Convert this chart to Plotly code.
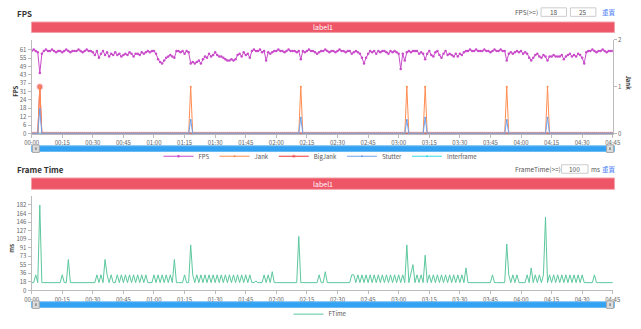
import plotly.graph_objects as go

W, H = 641, 329

# ---------------- data ----------------
SECONDS = list(range(286))

FPS = [
    60, 61, 60, 59,
    44,
    58, 60, 61, 60, 60, 61, 60, 59, 60,
    60, 59, 60, 61, 60, 59, 60,
    60, 60, 61, 60, 59, 60, 61, 60, 60, 59,
    57, 60, 55, 58, 60,
    57, 59, 56, 58, 57, 59, 57, 58, 56, 57,
    58, 57, 59, 58, 56, 58, 58, 57, 59, 58,
    59, 60, 59, 60, 60, 58,
    54, 52, 51, 53, 55,
    56, 57, 56, 55,
    60, 60, 59, 60, 58, 60, 59,
    51,
    52, 51, 52, 53, 51, 54,
    56, 55, 58, 56, 57,
    59, 57, 56, 56, 55, 54, 53, 53, 54, 53,
    54, 57, 58, 56, 59, 57, 58, 55,
    60, 61, 60, 60, 61, 59, 60,
    53,
    59, 58, 59, 60, 60, 61, 60, 60, 59, 60, 61, 60, 60, 60, 59, 60,
    54,
    60, 59, 60, 61, 60, 60, 59, 58, 59, 60, 60, 61, 60, 59, 60, 60, 59, 60, 61, 60,
    60, 59, 60, 60, 58, 59, 60, 59, 58,
    55, 51, 55,
    58, 60, 59, 60, 58, 60, 59, 60, 60, 59, 58, 60, 59, 60, 59, 58,
    47,
    58, 53,
    59,
    60, 59, 60, 60,
    60, 58, 59, 58,
    54,
    58, 60, 57, 56, 59, 60, 57, 55, 58, 60, 57, 58, 57, 56, 58, 56, 58, 57, 59,
    60, 60, 61, 60, 60, 61, 60, 60, 60, 61, 60, 60, 59, 60, 61, 60, 60, 61, 60, 60,
    53,
    58, 59, 58, 59, 60, 59, 60, 58, 59, 58,
    55, 53, 55,
    57, 58, 56, 55, 57, 56,
    53,
    56, 56, 57, 56, 56, 56, 57, 54, 56, 57, 58, 56, 57, 56, 58, 57, 55,
    51,
    59, 60, 60, 61, 60, 59, 60, 60, 61, 60, 59, 60, 60, 60,
]

JANK_TIMES = [4, 78, 132, 184, 193, 233, 253]
JANK_VALUES = [1, 1, 1, 1, 1, 1, 1]
BIGJANK_TIMES = [4]
BIGJANK_VALUES = [1]
STUTTER_TIMES = [4, 78, 132, 184, 193, 233, 253]
STUTTER_VALUES = [0.52, 0.29, 0.34, 0.29, 0.34, 0.29, 0.34]
INTERFRAME_VALUES = [0] * 286

FTIME = [
    16.7, 16.7, 33.3, 16.7,
    182,
    16.7, 16.7, 16.7, 16.7, 16.7, 16.7, 16.7, 16.7, 16.7, 16.7,
    33.3, 16.7, 16.7,
    66,
    16.7, 16.7, 16.7, 16.7, 16.7, 16.7, 16.7, 16.7, 16.7, 16.7, 16.7, 16.7, 16.7,
    33.3, 16.7, 33.3, 16.7,
    66,
    33.3, 16.7, 33.3,
    16.7, 16.7,
    33.3, 16.7, 33.3, 16.7, 33.3, 16.7, 33.3, 16.7, 33.3, 16.7, 33.3, 16.7, 33.3, 16.7, 33.3, 16.7,
    16.7, 16.7,
    33.3, 16.7, 33.3, 16.7, 33.3, 16.7, 33.3, 16.7, 33.3, 16.7,
    66,
    16.7, 16.7, 16.7, 16.7,
    33.3,
    16.7, 16.7,
    97,
    33.3, 16.7, 33.3, 16.7, 33.3, 16.7, 33.3, 16.7, 33.3, 16.7, 33.3, 16.7, 33.3, 16.7, 33.3,
    16.7, 33.3, 16.7, 33.3, 16.7, 33.3, 16.7, 33.3, 16.7, 33.3, 16.7, 33.3, 16.7, 33.3,
    16.7, 16.7, 20, 16.7, 16.7, 16.7,
    33.3, 16.7, 33.3, 16.7,
    40, 16.7, 16.7,
    16.7, 16.7, 16.7, 16.7, 16.7, 16.7, 16.7, 16.7, 16.7, 16.7,
    115,
    16.7, 16.7, 16.7, 16.7, 16.7, 16.7, 16.7, 16.7, 16.7,
    33.3, 16.7,
    16.7, 40,
    16.7, 16.7, 16.7, 16.7, 16.7, 16.7, 16.7, 16.7, 16.7, 16.7, 16.7, 16.7,
    33.3,
    33.3, 16.7, 33.3, 16.7, 33.3, 16.7, 33.3, 16.7, 33.3, 16.7, 33.3, 16.7,
    33.3, 16.7, 33.3, 16.7, 33.3, 16.7, 33.3, 16.7, 33.3, 16.7, 33.3,
    16.7, 33.3, 16.7, 97, 16.7, 33.3, 55, 16.7, 33.3, 16.7, 33.3, 16.7, 75, 16.7, 33.3, 16.7,
    33.3, 16.7, 33.3, 16.7, 33.3, 16.7, 33.3, 16.7, 33.3, 16.7, 33.3, 16.7, 33.3, 16.7, 33.3, 16.7,
    48,
    16.7, 16.7, 16.7, 16.7, 16.7, 16.7, 16.7, 16.7, 16.7, 16.7, 16.7, 16.7,
    33.3,
    16.7, 16.7, 16.7, 16.7, 16.7, 16.7,
    99,
    33.3, 16.7, 33.3, 16.7, 33.3,
    16.7, 16.7, 16.7, 16.7,
    33.3, 16.7, 48, 16.7, 33.3, 16.7, 33.3, 16.7, 33.3,
    156,
    16.7, 33.3, 16.7, 33.3, 16.7, 33.3, 16.7, 33.3, 16.7, 33.3, 16.7, 33.3, 16.7, 33.3, 16.7,
    33.3, 16.7, 33.3, 16.7,
    16.7, 16.7, 16.7, 16.7,
    33.3,
    16.7, 16.7, 16.7, 16.7, 16.7, 16.7, 16.7, 16.7, 16.7,
]

X_TICKS = [0, 15, 30, 45, 60, 75, 90, 105, 120, 135, 150, 165, 180, 195,
           210, 225, 240, 255, 270, 285]
X_TICK_LABELS = ["00:00", "00:15", "00:30", "00:45", "01:00", "01:15", "01:30",
                 "01:45", "02:00", "02:15", "02:30", "02:45", "03:00", "03:15",
                 "03:30", "03:45", "04:00", "04:15", "04:30", "04:45"]
FPS_TICKS = [0, 6.1, 12.2, 18.3, 24.4, 30.5, 36.6, 42.7, 48.8, 54.9, 61]
FPS_TICK_LABELS = ["0", "6", "12", "18", "24", "31", "37", "43", "49", "55", "61"]
JANK_TICKS = [0, 1, 2]
JANK_TICK_LABELS = ["0", "1", "2"]
FT_TICKS = [0, 18.2, 36.4, 54.6, 72.8, 91, 109.2, 127.4, 145.6, 163.8, 182]
FT_TICK_LABELS = ["0", "18", "36", "55", "73", "91", "109", "127", "146", "164", "182"]

# ---------------- build series ----------------
N = len(SECONDS)
jank = [0] * N
for t, v in zip(JANK_TIMES, JANK_VALUES):
    jank[t] = v
bigjank = [0] * N
for t, v in zip(BIGJANK_TIMES, BIGJANK_VALUES):
    bigjank[t] = v
stutter = [0] * N
for t, v in zip(STUTTER_TIMES, STUTTER_VALUES):
    stutter[t] = v

FONT = "Noto Sans CJK SC, Noto Sans, sans-serif"
C_FPS = "#C94BC9"
C_JANK = "#FF8D52"
C_BIG = "#EE3B3B"
C_STUT = "#6EA2EE"
C_INTER = "#38D8E6"
C_FT = "#5CC79E"


def px(x):
    return x / W


def py(y):
    return 1 - y / H


fig = go.Figure()

fig.add_trace(go.Scatter(x=SECONDS, y=INTERFRAME_VALUES, name="Interframe", yaxis="y2",
                         mode="lines+markers", line=dict(color=C_INTER, width=1),
                         marker=dict(size=2, color=C_INTER), legendrank=5))
fig.add_trace(go.Scatter(x=SECONDS, y=bigjank, name="BigJank", yaxis="y2",
                         mode="lines+markers", line=dict(color=C_BIG, width=1),
                         marker=dict(size=[5 if v else 2 for v in bigjank], color=C_BIG,
                                     line=dict(color="rgba(238,59,59,0.3)", width=2)),
                         legendrank=3))
fig.add_trace(go.Scatter(x=SECONDS, y=jank, name="Jank", yaxis="y2",
                         mode="lines+markers", line=dict(color=C_JANK, width=1),
                         marker=dict(size=2, color=C_JANK), legendrank=2))
fig.add_trace(go.Scatter(x=SECONDS, y=stutter, name="Stutter", yaxis="y2",
                         mode="lines+markers", line=dict(color=C_STUT, width=1),
                         marker=dict(size=2, color=C_STUT), legendrank=4))
fig.add_trace(go.Scatter(x=SECONDS, y=FPS, name="FPS", yaxis="y",
                         mode="lines+markers", line=dict(color=C_FPS, width=1),
                         marker=dict(size=2.5, color=C_FPS), legendrank=1))
fig.add_trace(go.Scatter(x=SECONDS, y=FTIME, name="FTime", xaxis="x2", yaxis="y3",
                         mode="lines", line=dict(color=C_FT, width=1), legend="legend2"))

axis_common = dict(showline=True, linecolor="#BBBBBB", linewidth=1, ticks="outside",
                   ticklen=3, tickcolor="#BBBBBB", showgrid=False, zeroline=False,
                   tickfont=dict(size=6, color="#666666", family=FONT))

XD = [px(25.2), px(619.3)]
fig.update_layout(
    width=W, height=H, margin=dict(l=0, r=0, t=0, b=0),
    paper_bgcolor="white", plot_bgcolor="white",
    font=dict(family=FONT, size=7, color="#555555"),
    xaxis=dict(domain=XD, range=[0, 285], tickvals=X_TICKS, ticktext=X_TICK_LABELS,
               anchor="y", **axis_common),
    yaxis=dict(domain=[py(136), py(37)], range=[0, 68], tickvals=FPS_TICKS,
               ticktext=FPS_TICK_LABELS, anchor="x", **axis_common),
    yaxis2=dict(overlaying="y", side="right", range=[0, 2], tickvals=JANK_TICKS,
                ticktext=JANK_TICK_LABELS, anchor="x", **axis_common),
    xaxis2=dict(domain=XD, range=[0, 285], tickvals=X_TICKS, ticktext=X_TICK_LABELS,
                anchor="y3", **axis_common),
    yaxis3=dict(domain=[py(302), py(201.6)], range=[0, 202], tickvals=FT_TICKS,
                ticktext=FT_TICK_LABELS, anchor="x2", **axis_common),
    legend=dict(orientation="h", x=0.5, xanchor="center", y=py(160), yanchor="middle",
                font=dict(size=6, color="#555555", family=FONT), itemwidth=30,
                bgcolor="rgba(0,0,0,0)", tracegroupgap=0),
    legend2=dict(orientation="h", x=0.5, xanchor="center", y=py(327), yanchor="middle",
                 font=dict(size=6, color="#555555", family=FONT), itemwidth=30,
                 bgcolor="rgba(0,0,0,0)"),
    showlegend=True,
)

shapes = []
annotations = []


def label(x, y, text, size=6.5, color="#555555", xanchor="center", bold=False, angle=0):
    annotations.append(dict(xref="paper", yref="paper", x=px(x), y=py(y),
                            text=f"<b>{text}</b>" if bold else text, showarrow=False,
                            xanchor=xanchor, yanchor="middle", textangle=angle,
                            font=dict(size=size, color=color, family=FONT)))


# red label banners
for (y0, y1) in [(18, 29), (183, 195)]:
    shapes.append(dict(type="rect", xref="paper", yref="paper", x0=px(25), x1=px(621),
                       y0=py(y1), y1=py(y0), fillcolor="#EE5566",
                       line=dict(color="#F3A0A8", width=1), layer="below"))
    label(323, (y0 + y1) / 2, "label1", size=7, color="white")

# data-zoom sliders
for (y0, y1) in [(149, 155), (314, 320)]:
    shapes.append(dict(type="rect", xref="paper", yref="paper", x0=px(25), x1=px(621),
                       y0=py(y1), y1=py(y0), fillcolor="#34A2F2",
                       line=dict(color="#6BBAF5", width=1)))
    for (hx0, hx1) in [(26, 33), (613, 620)]:
        shapes.append(dict(type="rect", xref="paper", yref="paper", x0=px(hx0), x1=px(hx1),
                           y0=py(y1 + 1), y1=py(y0 - 1), fillcolor="#DDDDDD",
                           line=dict(color="#A8A8A8", width=1)))
        shapes.append(dict(type="rect", xref="paper", yref="paper", x0=px(hx0 + 2.5),
                           x1=px(hx1 - 2.5), y0=py(y1 - 1.5), y1=py(y0 + 1.5),
                           fillcolor="#999999", line=dict(width=0)))

# input boxes
for (x0, x1, y0, y1, txt) in [(546, 572, 3, 12, "18"), (576, 602, 3, 12, "25"),
                              (567, 594, 169, 178, "100")]:
    shapes.append(dict(type="rect", xref="paper", yref="paper", x0=px(x0), x1=px(x1),
                       y0=py(y1), y1=py(y0), fillcolor="white",
                       line=dict(color="#CCCCCC", width=1)))
    label((x0 + x1) / 2, (y0 + y1) / 2, txt, size=6.5)

label(8, 8.5, "FPS", size=8, color="#333333", xanchor="left", bold=True)
label(8, 174.5, "Frame Time", size=8, color="#333333", xanchor="left", bold=True)
label(531, 7.5, "FPS(>=)")
label(615.5, 7.5, "重置", color="#4A7CF5")
label(543, 173.5, "FrameTime(>=)")
label(602, 173.5, "ms")
label(615.5, 173.5, "重置", color="#4A7CF5")
label(8, 91, "FPS", size=6, color="#333333", bold=True, angle=-90)
label(5, 257, "ms", size=6, color="#333333", bold=True, angle=-90)
label(635, 82, "Jank", size=6, color="#333333", bold=True, angle=90)

fig.update_layout(shapes=shapes, annotations=annotations)

fig.write_html("out.html")
